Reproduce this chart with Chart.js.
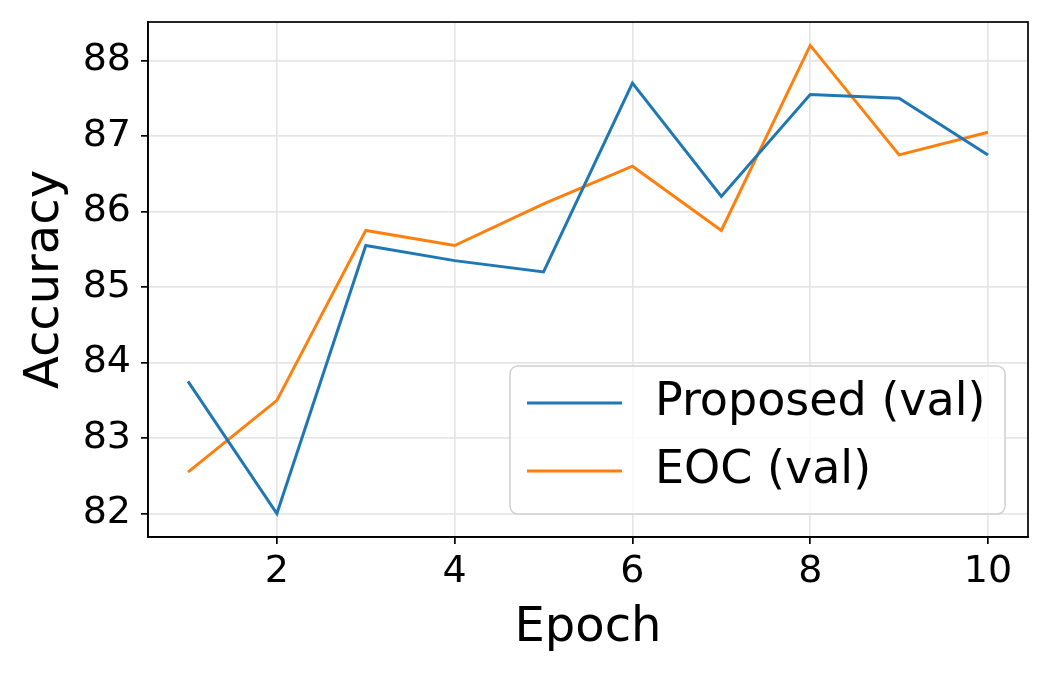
<!DOCTYPE html>
<html>
<head>
<meta charset="utf-8">
<script src="https://cdn.jsdelivr.net/npm/chart.js@4.4.0/dist/chart.umd.min.js"></script>
<style>
    html, body { margin: 0; padding: 0; background: #ffffff; }
    #wrap { width: 1050px; height: 675px; position: relative; }
</style>
</head>
<body>
<div id="wrap"><canvas id="accChart"></canvas></div>
<script>
// Data
const epochs = [1, 2, 3, 4, 5, 6, 7, 8, 9, 10];
const proposedVal = [83.75, 82.0, 85.55, 85.35, 85.2, 87.7, 86.2, 87.55, 87.5, 86.75];
const eocVal = [82.55, 83.5, 85.75, 85.55, 86.1, 86.6, 85.75, 88.2, 86.75, 87.05];
const xTicks = [2, 4, 6, 8, 10];
const yTicks = [82, 83, 84, 85, 86, 87, 88];
const seriesLabels = ['Proposed (val)', 'EOC (val)'];

const FONT = 'DejaVu Sans';

// matplotlib-like frame (top and right spines)
const framePlugin = {
    id: 'frame',
    afterDatasetsDraw(chart) {
        const {ctx, chartArea: a} = chart;
        ctx.save();
        ctx.strokeStyle = '#000000';
        ctx.lineWidth = 1.7;
        ctx.strokeRect(a.left, a.top, a.right - a.left, a.bottom - a.top);
        ctx.restore();
    }
};

// legend box in the lower right corner of the plot
const legendPlugin = {
    id: 'boxLegend',
    afterDraw(chart) {
        const {ctx, chartArea: a} = chart;
        const w = 495, h = 148;
        const x = a.right - 23 - w;
        const y = a.bottom - 23 - h;
        ctx.save();
        ctx.beginPath();
        ctx.roundRect(x, y, w, h, 8);
        ctx.fillStyle = 'rgba(255,255,255,0.8)';
        ctx.fill();
        ctx.strokeStyle = '#d0d0d0';
        ctx.lineWidth = 1.5;
        ctx.stroke();

        ctx.font = '46px "' + FONT + '"';
        ctx.textBaseline = 'middle';
        ctx.textAlign = 'left';
        chart.data.datasets.forEach((ds, i) => {
            const ly = y + 37 + i * 68;
            ctx.beginPath();
            ctx.moveTo(x + 17, ly);
            ctx.lineTo(x + 112, ly);
            ctx.strokeStyle = ds.borderColor;
            ctx.lineWidth = 3;
            ctx.stroke();
            ctx.fillStyle = '#000000';
            ctx.fillText(ds.label, x + 145, ly);
        });
        ctx.restore();
    }
};

// keep the plot box fixed like the reference
function noEdgePadding(scale) {
    scale.paddingTop = 0;
    scale.paddingBottom = 0;
    scale.paddingLeft = 0;
    scale.paddingRight = 0;
}

const ctx = document.getElementById('accChart').getContext('2d');
new Chart(ctx, {
    type: 'line',
    data: {
        datasets: [
            {
                label: seriesLabels[0],
                data: epochs.map((e, i) => ({x: e, y: proposedVal[i]})),
                borderColor: '#1f77b4',
                borderWidth: 3,
                pointRadius: 0,
                tension: 0,
                fill: false
            },
            {
                label: seriesLabels[1],
                data: epochs.map((e, i) => ({x: e, y: eocVal[i]})),
                borderColor: '#ff7f0e',
                borderWidth: 3,
                pointRadius: 0,
                tension: 0,
                fill: false
            }
        ]
    },
    options: {
        responsive: true,
        maintainAspectRatio: false,
        animation: false,
        devicePixelRatio: 1,
        layout: {
            padding: {top: 22, right: 22, left: 0, bottom: 0}
        },
        plugins: {
            legend: {display: false},
            tooltip: {enabled: false}
        },
        scales: {
            x: {
                type: 'linear',
                min: 0.55,
                max: 10.45,
                afterBuildTicks: (scale) => {
                    scale.ticks = xTicks.map(v => ({value: v}));
                },
                afterFit: (scale) => {
                    scale.height = 138;
                    noEdgePadding(scale);
                },
                grid: {
                    color: '#e6e6e6',
                    lineWidth: 1.7,
                    tickColor: '#000000',
                    tickLength: 7,
                    tickWidth: 1.7
                },
                border: {color: '#000000', width: 1.7},
                ticks: {
                    color: '#000000',
                    padding: 5,
                    maxRotation: 0,
                    font: {family: FONT, size: 38}
                },
                title: {
                    display: true,
                    text: 'Epoch',
                    color: '#000000',
                    font: {family: FONT, size: 48},
                    padding: {top: 0, bottom: 18}
                }
            },
            y: {
                min: 81.69,
                max: 88.51,
                afterBuildTicks: (scale) => {
                    scale.ticks = yTicks.map(v => ({value: v}));
                },
                afterFit: (scale) => {
                    scale.width = 148;
                    noEdgePadding(scale);
                },
                grid: {
                    color: '#e6e6e6',
                    lineWidth: 1.7,
                    tickColor: '#000000',
                    tickLength: 7,
                    tickWidth: 1.7
                },
                border: {color: '#000000', width: 1.7},
                ticks: {
                    color: '#000000',
                    padding: 10,
                    font: {family: FONT, size: 38},
                    callback: (value) => value.toFixed(0)
                },
                title: {
                    display: true,
                    text: 'Accuracy',
                    color: '#000000',
                    font: {family: FONT, size: 48},
                    padding: {top: 17, bottom: 0}
                }
            }
        }
    },
    plugins: [framePlugin, legendPlugin]
});
</script>
</body>
</html>
